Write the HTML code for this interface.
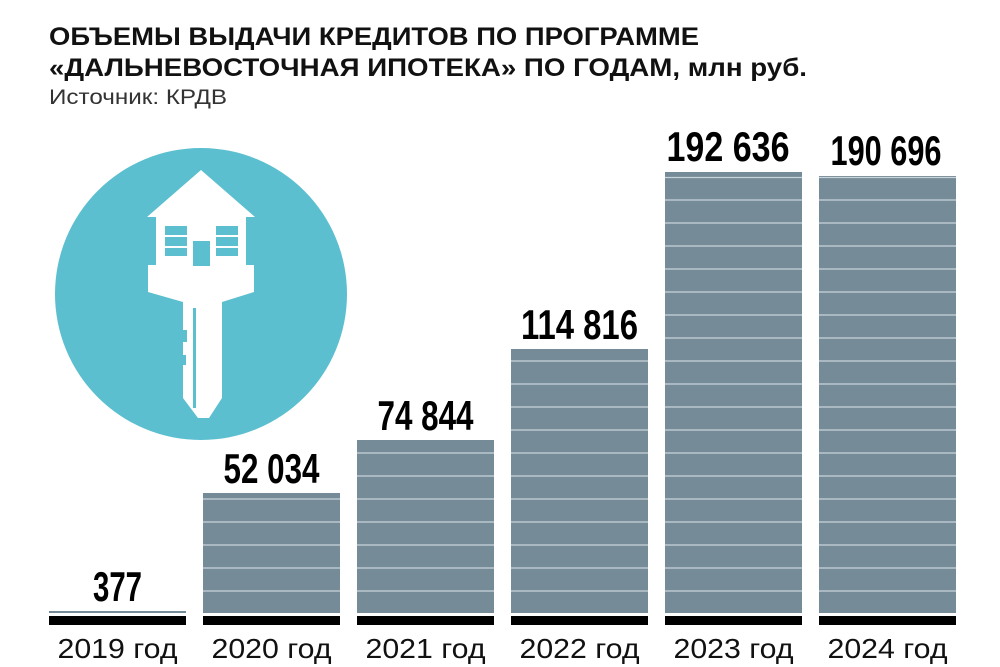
<!DOCTYPE html>
<html><head><meta charset="utf-8"><style>
html,body{margin:0;padding:0;background:#fff;}
svg{display:block;}
</style></head><body>
<svg width="1000" height="667" viewBox="0 0 1000 667" xmlns="http://www.w3.org/2000/svg" font-family="'Liberation Sans', sans-serif">
<text x="49" y="45" font-size="25" font-weight="bold" fill="#111" textLength="650" lengthAdjust="spacingAndGlyphs">ОБЪЕМЫ ВЫДАЧИ КРЕДИТОВ ПО ПРОГРАММЕ</text>
<text x="49" y="76" font-size="25" font-weight="bold" fill="#111" textLength="758" lengthAdjust="spacingAndGlyphs">«ДАЛЬНЕВОСТОЧНАЯ ИПОТЕКА» ПО ГОДАМ, млн руб.</text>
<text x="49" y="104" font-size="21" fill="#333" textLength="178" lengthAdjust="spacingAndGlyphs">Источник: КРДВ</text>

<circle cx="201" cy="294" r="146" fill="#5bbfd0"/>
<g fill="#fff">
<polygon points="201,170 147,217 156,217 156,265 148,265 148,292 183,302 183,398 198,418 209,418 222,398 222,302 254,292 254,265 246,265 246,217 255,217"/>
</g>
<g fill="#5bbfd0">
<rect x="165" y="226" width="22" height="9"/><rect x="165" y="237" width="22" height="9"/><rect x="165" y="248" width="22" height="8"/>
<rect x="216" y="226" width="22" height="9"/><rect x="216" y="237" width="22" height="9"/><rect x="216" y="248" width="22" height="8"/>
<rect x="193" y="241" width="17" height="25"/>
<rect x="193" y="308" width="3" height="100"/>
<rect x="180" y="330" width="7" height="12"/><rect x="180" y="355" width="6" height="10"/>
</g>

<g fill="#768b98">
<rect x="49" y="611" width="137" height="2"/>
<rect x="203" y="493" width="137" height="120"/>
<rect x="357" y="440" width="137" height="173"/>
<rect x="511" y="349" width="137" height="264"/>
<rect x="665" y="172" width="137" height="441"/>
<rect x="819" y="176" width="137" height="437"/>
</g>
<g stroke="#c9d3d9" stroke-width="1.3">
<line x1="203" x2="340" y1="499" y2="499"/><line x1="203" x2="340" y1="522" y2="522"/><line x1="203" x2="340" y1="545" y2="545"/><line x1="203" x2="340" y1="568" y2="568"/><line x1="203" x2="340" y1="591" y2="591"/>
<line x1="357" x2="494" y1="453" y2="453"/><line x1="357" x2="494" y1="476" y2="476"/><line x1="357" x2="494" y1="499" y2="499"/><line x1="357" x2="494" y1="522" y2="522"/><line x1="357" x2="494" y1="545" y2="545"/><line x1="357" x2="494" y1="568" y2="568"/><line x1="357" x2="494" y1="591" y2="591"/>
<line x1="511" x2="648" y1="361" y2="361"/><line x1="511" x2="648" y1="384" y2="384"/><line x1="511" x2="648" y1="407" y2="407"/><line x1="511" x2="648" y1="430" y2="430"/><line x1="511" x2="648" y1="453" y2="453"/><line x1="511" x2="648" y1="476" y2="476"/><line x1="511" x2="648" y1="499" y2="499"/><line x1="511" x2="648" y1="522" y2="522"/><line x1="511" x2="648" y1="545" y2="545"/><line x1="511" x2="648" y1="568" y2="568"/><line x1="511" x2="648" y1="591" y2="591"/>
</g>
<g stroke="#c9d3d9" stroke-width="1.3">
<line x1="665" x2="802" y1="177.5" y2="177.5"/><line x1="819" x2="956" y1="177.5" y2="177.5"/>
<line x1="665" x2="802" y1="200" y2="200"/><line x1="819" x2="956" y1="200" y2="200"/>
<line x1="665" x2="802" y1="223" y2="223"/><line x1="819" x2="956" y1="223" y2="223"/>
<line x1="665" x2="802" y1="246" y2="246"/><line x1="819" x2="956" y1="246" y2="246"/>
<line x1="665" x2="802" y1="269" y2="269"/><line x1="819" x2="956" y1="269" y2="269"/>
<line x1="665" x2="802" y1="292" y2="292"/><line x1="819" x2="956" y1="292" y2="292"/>
<line x1="665" x2="802" y1="315" y2="315"/><line x1="819" x2="956" y1="315" y2="315"/>
<line x1="665" x2="802" y1="338" y2="338"/><line x1="819" x2="956" y1="338" y2="338"/>
<line x1="665" x2="802" y1="361" y2="361"/><line x1="819" x2="956" y1="361" y2="361"/>
<line x1="665" x2="802" y1="384" y2="384"/><line x1="819" x2="956" y1="384" y2="384"/>
<line x1="665" x2="802" y1="407" y2="407"/><line x1="819" x2="956" y1="407" y2="407"/>
<line x1="665" x2="802" y1="430" y2="430"/><line x1="819" x2="956" y1="430" y2="430"/>
<line x1="665" x2="802" y1="453" y2="453"/><line x1="819" x2="956" y1="453" y2="453"/>
<line x1="665" x2="802" y1="476" y2="476"/><line x1="819" x2="956" y1="476" y2="476"/>
<line x1="665" x2="802" y1="499" y2="499"/><line x1="819" x2="956" y1="499" y2="499"/>
<line x1="665" x2="802" y1="522" y2="522"/><line x1="819" x2="956" y1="522" y2="522"/>
<line x1="665" x2="802" y1="545" y2="545"/><line x1="819" x2="956" y1="545" y2="545"/>
<line x1="665" x2="802" y1="568" y2="568"/><line x1="819" x2="956" y1="568" y2="568"/>
<line x1="665" x2="802" y1="591" y2="591"/><line x1="819" x2="956" y1="591" y2="591"/>
</g>

<g fill="#000">
<rect x="49" y="616" width="137" height="9"/><rect x="203" y="616" width="137" height="9"/><rect x="357" y="616" width="137" height="9"/><rect x="511" y="616" width="137" height="9"/><rect x="665" y="616" width="137" height="9"/><rect x="819" y="616" width="137" height="9"/>
</g>

<g font-size="42" font-weight="bold" fill="#000" text-anchor="middle">
<text x="117.5" y="601" textLength="49" lengthAdjust="spacingAndGlyphs">377</text>
<text x="271.5" y="483" textLength="96" lengthAdjust="spacingAndGlyphs">52 034</text>
<text x="425.5" y="430" textLength="96" lengthAdjust="spacingAndGlyphs">74 844</text>
<text x="579.5" y="339" textLength="117" lengthAdjust="spacingAndGlyphs">114 816</text>
<text x="728" y="161" textLength="123" lengthAdjust="spacingAndGlyphs">192 636</text>
<text x="886" y="165" textLength="111" lengthAdjust="spacingAndGlyphs">190 696</text>
</g>

<g font-size="28" fill="#111" text-anchor="middle">
<text x="117.5" y="658" textLength="120" lengthAdjust="spacingAndGlyphs">2019 год</text>
<text x="271.5" y="658" textLength="120" lengthAdjust="spacingAndGlyphs">2020 год</text>
<text x="425.5" y="658" textLength="120" lengthAdjust="spacingAndGlyphs">2021 год</text>
<text x="579.5" y="658" textLength="120" lengthAdjust="spacingAndGlyphs">2022 год</text>
<text x="733.5" y="658" textLength="120" lengthAdjust="spacingAndGlyphs">2023 год</text>
<text x="887.5" y="658" textLength="120" lengthAdjust="spacingAndGlyphs">2024 год</text>
</g>
</svg>
</body></html>
